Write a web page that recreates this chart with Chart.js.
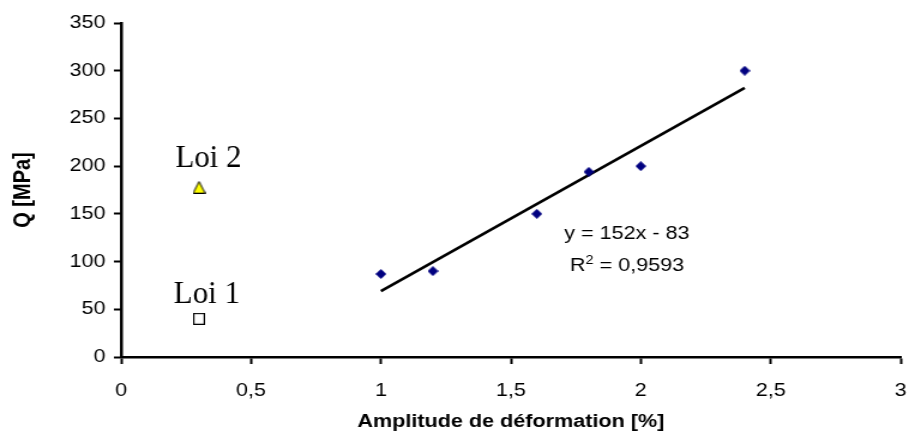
<!DOCTYPE html>
<html>
<head>
<meta charset="utf-8">
<script src="https://cdn.jsdelivr.net/npm/chart.js@4"></script>
<style>
    html, body { margin: 0; padding: 0; background: #fff; overflow: hidden; }
    /* the original picture is stretched sideways, so the chart is drawn narrow and widened */
    #wrap { width: 758px; height: 436px; transform: scaleX(1.1992); transform-origin: 0 0; }
</style>
</head>
<body>
<div id="wrap"><canvas id="qChart" width="758" height="436"></canvas></div>
<script>
// measured points
const amplitude = [1.0, 1.2, 1.6, 1.8, 2.0, 2.4];
const qValues = [87, 90, 150, 194, 200, 300];

// linear trend line (ends)
const trendX = [1.0, 2.4];
const trendY = [69, 282];

// the two laws
const loiNames = ['Loi 1', 'Loi 2'];
const loiX = [0.3, 0.3];
const loiY = [40, 178];

// axes
const xMin = 0, xMax = 3, xStep = 0.5;
const yMin = 0, yMax = 350, yStep = 50;

const equationText = 'y = 152x - 83';
const r2Text = '0,9593';

const stretch = 1.1992;

// markers drawn a bit narrower so they stay square once the page is widened
function makeMarker(w, h, draw) {
    const c = document.createElement('canvas');
    c.width = w;
    c.height = h;
    draw(c.getContext('2d'));
    return c;
}

const diamond = makeMarker(9, 10, function (g) {
    g.fillStyle = '#000080';
    g.beginPath();
    g.moveTo(4.5, 0);
    g.lineTo(9, 5);
    g.lineTo(4.5, 10);
    g.lineTo(0, 5);
    g.closePath();
    g.fill();
});

const square = makeMarker(10, 12, function (g) {
    g.fillStyle = '#fff';
    g.fillRect(0, 0, 10, 12);
    g.strokeStyle = '#000';
    g.lineWidth = 1.2;
    g.strokeRect(0.6, 0.6, 8.8, 10.8);
});

const triangle = makeMarker(11, 13, function (g) {
    g.fillStyle = '#ffff00';
    g.strokeStyle = '#000';
    g.lineWidth = 1;
    g.beginPath();
    g.moveTo(5.5, 0.8);
    g.lineTo(10.5, 12.5);
    g.lineTo(0.5, 12.5);
    g.closePath();
    g.fill();
    g.stroke();
});

// label anchors in data units
const loiLabelX = [0.33, 0.336];
const loiLabelY = [56.4, 199.4];
const eqX = 1.947, eqY = 123.6, r2Y = 90;

const textPlugin = {
    id: 'chartTexts',
    afterDatasetsDraw(chart) {
        const ctx = chart.ctx;
        const xs = chart.scales.x, ys = chart.scales.y;
        ctx.save();
        ctx.fillStyle = '#000';
        ctx.textBaseline = 'alphabetic';

        // Loi labels are not widened in the original
        ctx.font = '31px "Liberation Serif", "Times New Roman", serif';
        ctx.textAlign = 'center';
        loiNames.forEach(function (name, i) {
            ctx.save();
            ctx.translate(xs.getPixelForValue(loiLabelX[i]), ys.getPixelForValue(loiLabelY[i]));
            ctx.scale(1 / stretch, 1);
            ctx.fillText(name, 0, 0);
            ctx.restore();
        });

        // trend equation
        const cx = xs.getPixelForValue(eqX);
        ctx.font = '18px "Liberation Sans", Arial, sans-serif';
        ctx.fillText(equationText, cx, ys.getPixelForValue(eqY));

        const partR = 'R';
        const partRest = ' = ' + r2Text;
        const wR = ctx.measureText(partR).width;
        const wRest = ctx.measureText(partRest).width;
        ctx.font = '12px "Liberation Sans", Arial, sans-serif';
        const wSup = ctx.measureText('2').width;
        const total = wR + wSup + wRest;
        let x = cx - total / 2;
        const y = ys.getPixelForValue(r2Y);
        ctx.textAlign = 'left';
        ctx.font = '18px "Liberation Sans", Arial, sans-serif';
        ctx.fillText(partR, x, y);
        x += wR;
        ctx.font = '12px "Liberation Sans", Arial, sans-serif';
        ctx.fillText('2', x, y - 7);
        x += wSup;
        ctx.font = '18px "Liberation Sans", Arial, sans-serif';
        ctx.fillText(partRest, x, y);
        ctx.restore();
    }
};

var ctx_q = document.getElementById('qChart').getContext('2d');

new Chart(ctx_q, {
    type: 'scatter',
    data: {
        datasets: [{
            label: 'Q',
            data: amplitude.map((a, i) => ({ x: a, y: qValues[i] })),
            pointStyle: diamond,
            pointRadius: 5,
            showLine: false
        }, {
            label: 'Linéaire',
            type: 'line',
            data: trendX.map((a, i) => ({ x: a, y: trendY[i] })),
            borderColor: '#000',
            borderWidth: 2.5,
            pointRadius: 0,
            fill: false
        }, {
            label: loiNames[0],
            data: [{ x: loiX[0], y: loiY[0] }],
            pointStyle: square,
            pointRadius: 6
        }, {
            label: loiNames[1],
            data: [{ x: loiX[1], y: loiY[1] }],
            pointStyle: triangle,
            pointRadius: 6
        }]
    },
    options: {
        responsive: false,
        animation: false,
        layout: {
            padding: { top: 23, right: 6, left: 0, bottom: 0 }
        },
        scales: {
            x: {
                type: 'linear',
                min: xMin,
                max: xMax,
                afterFit: function (s) {
                    s.height = 79;
                    // the tick padding would otherwise eat into the right side
                    s.paddingLeft = 0;
                    s.paddingRight = 0;
                },
                ticks: {
                    stepSize: xStep,
                    color: '#000',
                    padding: 16,
                    maxRotation: 0,
                    font: { family: '"Liberation Sans", Arial, sans-serif', size: 18 },
                    callback: v => String(v).replace('.', ',')
                },
                grid: {
                    drawOnChartArea: false,
                    drawTicks: true,
                    tickLength: 7,
                    tickWidth: 2,
                    tickColor: '#000'
                },
                border: { color: '#000', width: 2.5 },
                title: {
                    display: true,
                    text: 'Amplitude de déformation [%]',
                    color: '#000',
                    padding: { top: 0, bottom: 3 },
                    font: { family: '"Liberation Sans", Arial, sans-serif', size: 18, weight: 'bold' }
                }
            },
            y: {
                min: yMin,
                max: yMax,
                afterFit: function (s) { s.width = 101; },
                ticks: {
                    stepSize: yStep,
                    color: '#000',
                    padding: 7,
                    font: { family: '"Liberation Sans", Arial, sans-serif', size: 18 }
                },
                grid: {
                    drawOnChartArea: false,
                    drawTicks: true,
                    tickLength: 6,
                    tickWidth: 2,
                    tickColor: '#000'
                },
                border: { color: '#000', width: 2.5 },
                title: {
                    display: true,
                    text: 'Q [MPa]',
                    color: '#000',
                    padding: { top: 7, bottom: 0 },
                    font: { family: '"Liberation Sans", Arial, sans-serif', size: 20, weight: 'bold' }
                }
            }
        },
        plugins: {
            legend: { display: false },
            tooltip: { enabled: false }
        }
    },
    plugins: [textPlugin]
});
</script>
</body>
</html>
